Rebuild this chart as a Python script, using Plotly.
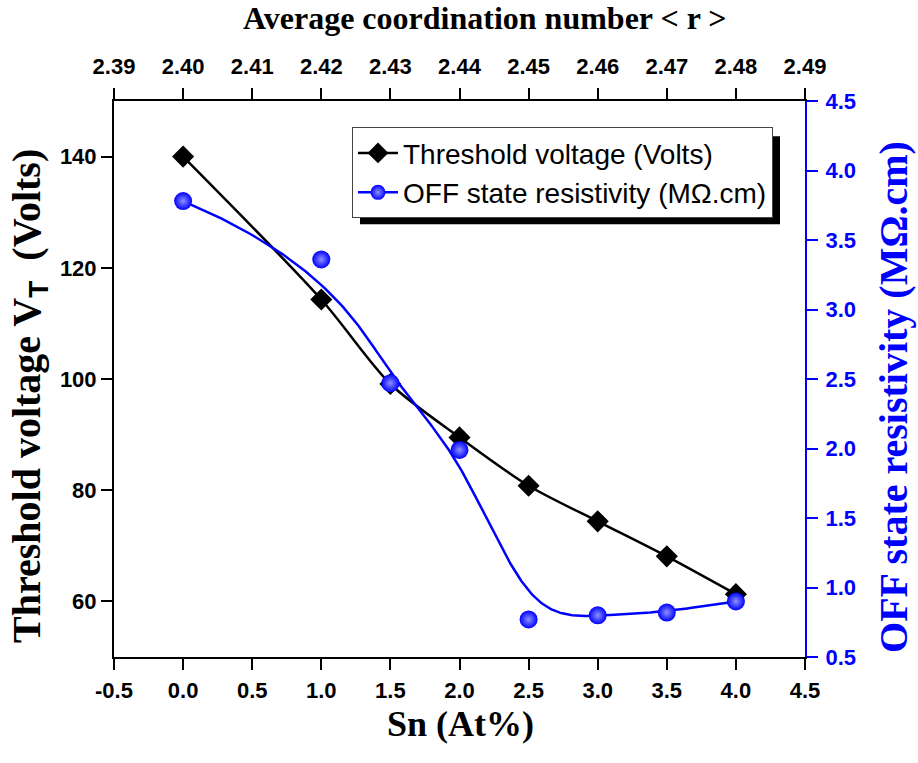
import numpy as np
import plotly.graph_objects as go

# Sn content (at.%) and the matching average coordination number <r>
sn = [0.0, 1.0, 1.5, 2.0, 2.5, 3.0, 3.5, 4.0]
# Threshold voltage V_T (Volts)
vt = [140.0, 114.3, 99.1, 89.5, 80.8, 74.4, 68.1, 61.3]
# OFF state resistivity (MOhm.cm)
rho = [3.78, 3.36, 2.47, 1.99, 0.77, 0.80, 0.82, 0.90]

x_ticks = [-0.5, 0.0, 0.5, 1.0, 1.5, 2.0, 2.5, 3.0, 3.5, 4.0, 4.5]
r_ticks = [2.39, 2.40, 2.41, 2.42, 2.43, 2.44, 2.45, 2.46, 2.47, 2.48, 2.49]
vt_ticks = [60, 80, 100, 120, 140]
rho_ticks = [0.5, 1.0, 1.5, 2.0, 2.5, 3.0, 3.5, 4.0, 4.5]

BLUE = "#0000ff"
SERIF = "Liberation Serif"
SANS = "Liberation Sans"


def bspline(px, py, degree=3, samples=300):
    """Clamped uniform B-spline using the data points as control points."""
    px = np.asarray(px, float)
    py = np.asarray(py, float)
    n = len(px)
    inner = n - degree - 1
    knots = np.array([0.0] * (degree + 1) + list(range(1, inner + 1)) + [float(inner + 1)] * (degree + 1))
    t_end = knots[-1]
    ts = np.linspace(0, t_end, samples)

    def basis(i, k, t):
        if k == 0:
            if knots[i] <= t < knots[i + 1]:
                return 1.0
            if t == t_end and knots[i] < t <= knots[i + 1]:
                return 1.0
            return 0.0
        a = 0.0
        d1 = knots[i + k] - knots[i]
        if d1 > 0:
            a = (t - knots[i]) / d1 * basis(i, k - 1, t)
        b = 0.0
        d2 = knots[i + k + 1] - knots[i + 1]
        if d2 > 0:
            b = (knots[i + k + 1] - t) / d2 * basis(i + 1, k - 1, t)
        return a + b

    cx, cy = [], []
    for t in ts:
        w = np.array([basis(i, degree, t) for i in range(n)])
        cx.append(float(w @ px))
        cy.append(float(w @ py))
    return cx, cy


rho_cx, rho_cy = bspline(sn, rho)

fig = go.Figure()

# threshold voltage: smooth line through the points with diamond markers
fig.add_trace(go.Scatter(
    x=sn, y=vt, mode="lines+markers", name="Threshold voltage (Volts)",
    line=dict(color="black", width=2.5, shape="spline", smoothing=0.8),
    marker=dict(symbol="diamond", size=17, color="black"),
    xaxis="x", yaxis="y",
))

sphere = dict(color=BLUE, line=dict(width=0),
              gradient=dict(type="radial", color="#8c92ff"))

# resistivity: B-spline curve plus shaded spheres
fig.add_trace(go.Scatter(
    x=rho_cx, y=rho_cy, mode="lines", showlegend=False, hoverinfo="skip",
    line=dict(color=BLUE, width=2.5), xaxis="x", yaxis="y2",
))
fig.add_trace(go.Scatter(
    x=sn, y=rho, mode="markers", showlegend=False,
    marker=dict(size=18, **sphere), xaxis="x", yaxis="y2",
))
# legend entry for the resistivity series (line + sphere)
fig.add_trace(go.Scatter(
    x=[None], y=[None], mode="lines+markers", name="OFF state resistivity (M\u03a9.cm)",
    line=dict(color=BLUE, width=2.5), marker=dict(size=15, **sphere),
    xaxis="x", yaxis="y2",
))
# top axis carrier (average coordination number)
fig.add_trace(go.Scatter(
    x=[2.40 + 0.02 * s for s in sn], y=vt, mode="markers", showlegend=False,
    marker=dict(opacity=0), hoverinfo="skip", xaxis="x2", yaxis="y",
))

tick_font = dict(family=SANS, size=22, color="black", weight="bold")
axis_common = dict(showgrid=False, zeroline=False, showline=True, linewidth=2,
                   ticks="outside", ticklen=11, tickwidth=2)


def px_x(px):
    return (px - 114) / 691


def px_y(py):
    return (657.3 - py) / 556.6


fig.update_layout(
    width=918, height=763,
    margin=dict(l=114, r=113, t=101, b=106),
    paper_bgcolor="white", plot_bgcolor="white",
    xaxis=dict(
        range=[-0.5, 4.5], tickvals=x_ticks, ticktext=[f"{v:.1f}" for v in x_ticks],
        linecolor="black", tickcolor="black", tickfont=tick_font, ticklabelstandoff=2,
        **axis_common,
    ),
    xaxis2=dict(
        range=[2.39, 2.49], tickvals=r_ticks, ticktext=[f"{v:.2f}" for v in r_ticks],
        overlaying="x", side="top", anchor="y",
        linecolor="black", tickcolor="black", tickfont=tick_font, ticklabelstandoff=5,
        **axis_common,
    ),
    yaxis=dict(
        range=[50, 150], tickvals=vt_ticks, ticktext=[str(v) for v in vt_ticks],
        linecolor="black", tickcolor="black", tickfont=tick_font, ticklabelstandoff=0,
        **axis_common,
    ),
    yaxis2=dict(
        range=[0.5, 4.5], tickvals=rho_ticks, ticktext=[f"{v:.1f}" for v in rho_ticks],
        overlaying="y", side="right", anchor="x",
        linecolor=BLUE, tickcolor=BLUE, ticklabelstandoff=3,
        tickfont=dict(family=SANS, size=22, color=BLUE, weight="bold"),
        **axis_common,
    ),
    legend=dict(
        x=px_x(352), y=px_y(127), xanchor="left", yanchor="top",
        bgcolor="white", bordercolor="#444444", borderwidth=1,
        font=dict(family=SANS, size=28, color="black"),
        itemwidth=40, tracegroupgap=0,
    ),
    shapes=[
        # drop shadow behind the legend box
        dict(type="rect", xref="paper", yref="paper",
             x0=px_x(360), x1=px_x(780), y0=px_y(224), y1=px_y(136),
             fillcolor="black", line=dict(width=0), layer="above"),
    ],
    annotations=[
        dict(text="<b>Sn (At%)</b>", xref="paper", yref="paper",
             x=px_x(461), y=px_y(724), xanchor="center", yanchor="middle",
             showarrow=False, font=dict(family=SERIF, size=36, color="black")),
        dict(text="<b>Average coordination number < r ></b>", xref="paper", yref="paper",
             x=px_x(485), y=px_y(18), xanchor="center", yanchor="middle",
             showarrow=False, font=dict(family=SERIF, size=32, color="black")),
        dict(text="<b>Threshold voltage V<sub><span style=\"font-family:Liberation Sans\">T</span></sub>  (Volts)</b>",
             xref="paper", yref="paper", textangle=-90,
             x=px_x(29), y=px_y(396), xanchor="center", yanchor="middle",
             showarrow=False, font=dict(family=SERIF, size=40, color="black")),
        dict(text="<b>OFF state resistivity (M\u03a9.cm)</b>", xref="paper", yref="paper", textangle=-90,
             x=px_x(894), y=px_y(397), xanchor="center", yanchor="middle",
             showarrow=False, font=dict(family=SERIF, size=40, color=BLUE)),
    ],
)

fig.write_html("out.html")
